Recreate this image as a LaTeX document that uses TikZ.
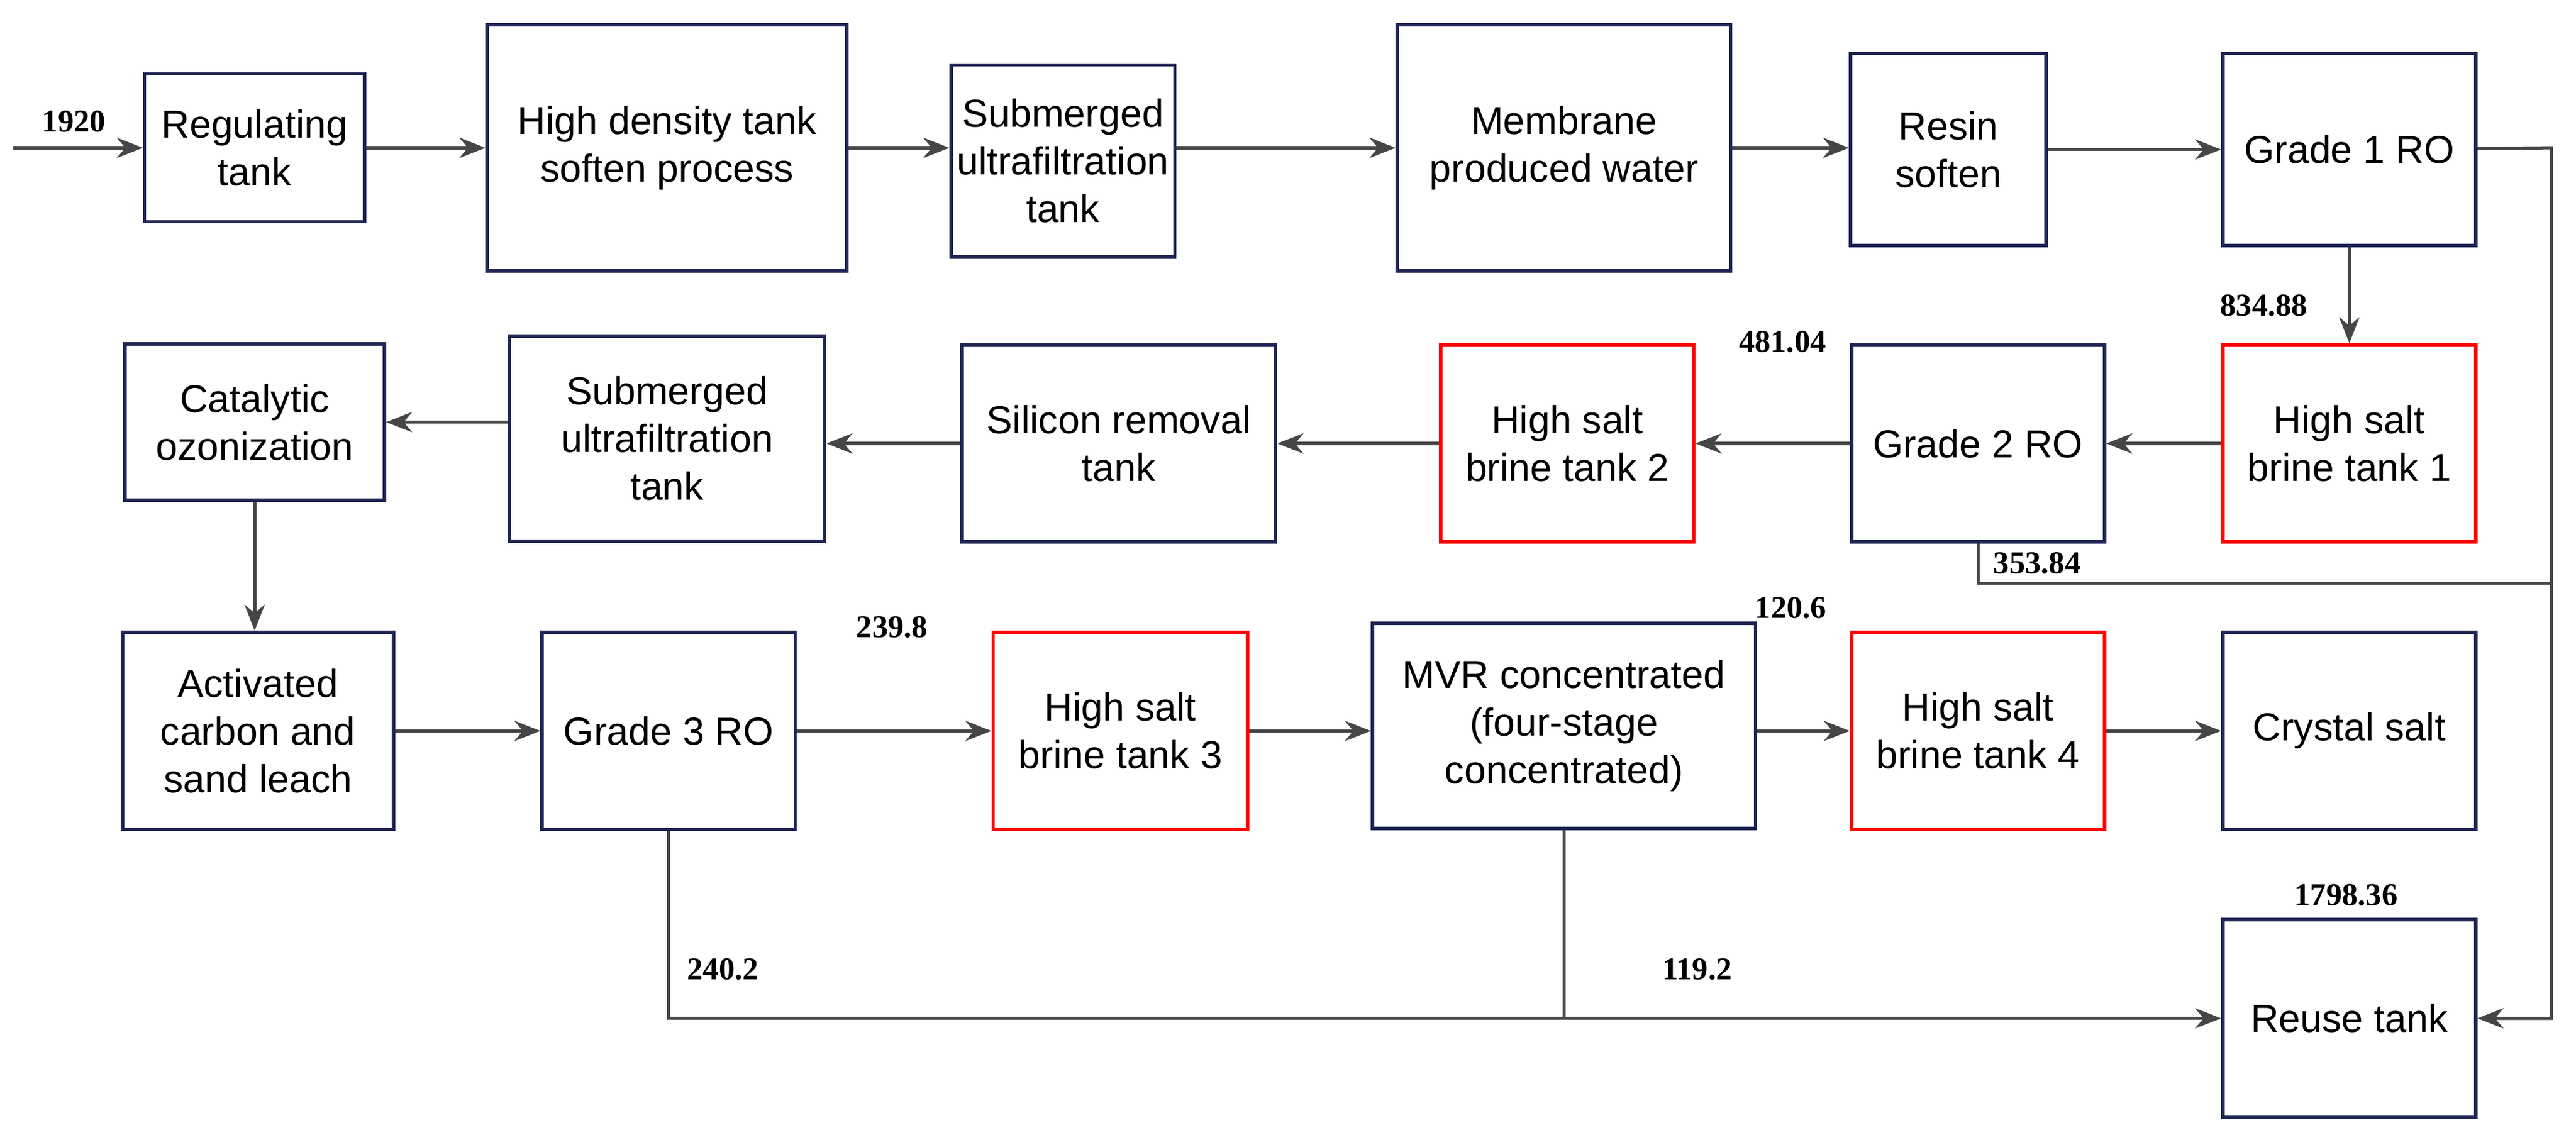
\documentclass[tikz,border=0pt]{standalone}
\usepackage{fontspec}
\setmainfont{Liberation Sans}
\newfontfamily\numfont{Liberation Serif}
\usetikzlibrary{arrows.meta}
\definecolor{boxblue}{RGB}{31,38,84}
\definecolor{linegray}{RGB}{70,70,70}
\tikzstyle{box}=[rectangle,draw=boxblue,line width=1.2pt,fill=white,align=center,font=\fontsize{13.5}{16.5}\selectfont,inner sep=2pt]
\tikzstyle{brine}=[box,draw=red]
\tikzstyle{flow}=[linegray,line width=1.1pt]
\tikzstyle{a}=[flow,-{Stealth[length=9pt,width=7pt]}]
\tikzstyle{num}=[font=\numfont\bfseries\fontsize{11}{13}\selectfont,inner sep=0pt]

\begin{document}
\begin{tikzpicture}[x=0.02cm,y=-0.02cm]
\useasboundingbox (0,0) rectangle (1568,691);

% Nodes
\node[box,minimum width=2.68cm,minimum height=1.8cm] (regulating) at (155,90)  {Regulating\\tank};
\node[box,minimum width=4.38cm,minimum height=3cm]   (density)    at (406,90)  {High density tank\\soften process};
\node[box,minimum width=2.6cm,minimum height=2.34cm] (uf1)        at (647,98)  {Submerged\\ultrafiltration\\tank};
\node[box,minimum width=4.06cm,minimum height=3cm]   (membrane)   at (952,90)  {Membrane\\produced water};
\node[box,minimum width=2.38cm,minimum height=2.34cm] (resin)     at (1186,91) {Resin\\soften};
\node[box,minimum width=3.08cm,minimum height=2.34cm] (ro1)       at (1430,91) {Grade 1 RO};

\node[box,minimum width=3.16cm,minimum height=1.9cm] (ozone)      at (155,257) {Catalytic\\ozonization};
\node[box,minimum width=3.84cm,minimum height=2.5cm] (uf2)        at (406,267) {Submerged\\ultrafiltration\\tank};
\node[box,minimum width=3.82cm,minimum height=2.4cm] (silicon)    at (681,270) {Silicon removal\\tank};
\node[brine,minimum width=3.08cm,minimum height=2.4cm] (brine2)   at (954,270) {High salt\\brine tank 2};
\node[box,minimum width=3.08cm,minimum height=2.4cm] (ro2)        at (1204,270) {Grade 2 RO};
\node[brine,minimum width=3.08cm,minimum height=2.4cm] (brine1)   at (1430,270) {High salt\\brine tank 1};

\node[box,minimum width=3.3cm,minimum height=2.4cm]  (carbon)     at (157,445) {Activated\\carbon and\\sand leach};
\node[box,minimum width=3.08cm,minimum height=2.4cm] (ro3)        at (407,445) {Grade 3 RO};
\node[brine,minimum width=3.1cm,minimum height=2.4cm] (brine3)    at (682,445) {High salt\\brine tank 3};
\node[box,minimum width=4.66cm,minimum height=2.5cm] (mvr)        at (952,442) {MVR concentrated\\(four-stage\\concentrated)};
\node[brine,minimum width=3.08cm,minimum height=2.4cm] (brine4)   at (1204,445) {High salt\\brine tank 4};
\node[box,minimum width=3.08cm,minimum height=2.4cm] (salt)       at (1430,445) {Crystal salt};
\node[box,minimum width=3.08cm,minimum height=2.4cm] (reuse)      at (1430,620) {Reuse tank};

\coordinate (inlet) at (8,90);
\coordinate (rail)  at (1553,90);
\coordinate (join2) at (1553,355);

% Flow labels
\node[num] at (45,74)    {1920};
\node[num] at (1378,186) {834.88};
\node[num] at (1085,208) {481.04};
\node[num] at (1240,343) {353.84};
\node[num] at (543,382)  {239.8};
\node[num] at (1090,370) {120.6};
\node[num] at (1428,545) {1798.36};
\node[num] at (440,590)  {240.2};
\node[num] at (1033,590) {119.2};

% Edges
\draw[a] (inlet) -- (regulating);
\draw[a] (regulating) -- (density);
\draw[a] (density) -- (density -| uf1.west);
\draw[a] (uf1.east |- membrane) -- (membrane);
\draw[a] (membrane) -- (membrane -| resin.west);
\draw[a] (resin) -- (ro1);
\draw[a] (ro1) -- (brine1);
\draw[a] (brine1) -- (ro2);
\draw[a] (ro2) -- (brine2);
\draw[a] (brine2) -- (silicon);
\draw[a] (silicon) -- (silicon -| uf2.east);
\draw[a] (uf2.west |- ozone) -- (ozone);
\draw[a] (ozone) -- (ozone |- carbon.north);
\draw[a] (carbon) -- (ro3);
\draw[a] (ro3) -- (brine3);
\draw[a] (brine3) -- (brine3 -| mvr.west);
\draw[a] (mvr.east |- brine4) -- (brine4);
\draw[a] (brine4) -- (salt);
\draw[a] (ro1) -- (rail) |- (reuse.east);
\draw[flow] (ro2.south) |- (join2);
\draw[a] (ro3.south) |- (reuse.west);
\draw[flow] (mvr.south) -- (mvr.south |- reuse.west);

\end{tikzpicture}
\end{document}
